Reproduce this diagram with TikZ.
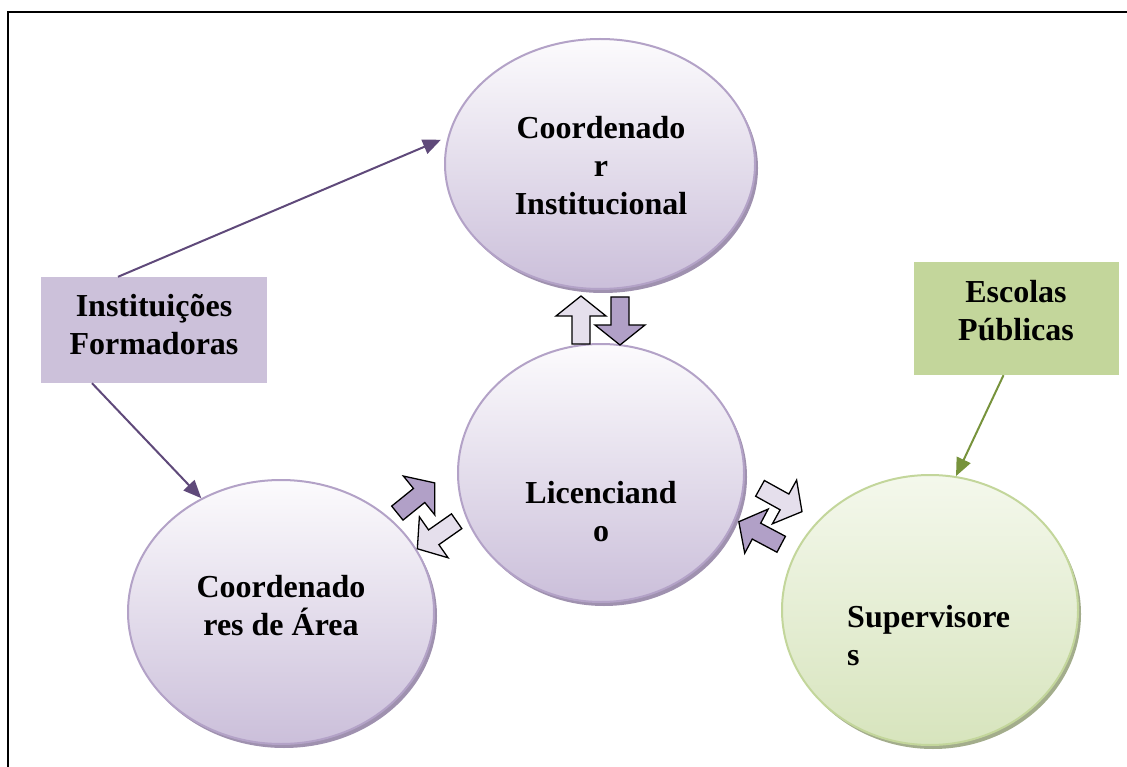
\documentclass[tikz,border=0pt]{standalone}
\usepackage{fontspec}
\setmainfont{Liberation Serif}
\usetikzlibrary{shapes.geometric,shadows,arrows.meta,calc}

\definecolor{lavtop}{HTML}{FCFBFD}
\definecolor{lavbot}{HTML}{CBBFDA}
\definecolor{lavedge}{HTML}{B3A2C7}
\definecolor{lavshadow}{HTML}{9F91AF}
\definecolor{grntop}{HTML}{F4F8EC}
\definecolor{grnbot}{HTML}{D7E4BD}
\definecolor{grnedge}{HTML}{C3D69B}
\definecolor{grnshadow}{HTML}{A3AD8C}
\definecolor{instfill}{HTML}{CCC1DA}
\definecolor{escfill}{HTML}{C3D69B}
\definecolor{purpline}{HTML}{5F497A}
\definecolor{grnline}{HTML}{77933C}
\definecolor{arrowdark}{HTML}{B1A0C7}
\definecolor{arrowlight}{HTML}{E5DFEC}

\tikzset{
  bigfont/.style={font=\fontsize{32}{38}\selectfont\bfseries},
  lavcircle/.style={ellipse, inner sep=0pt, draw=lavedge, line width=2pt,
    top color=lavtop, bottom color=lavbot,
    drop shadow={shadow xshift=3pt, shadow yshift=-4pt, fill=lavshadow, opacity=1}},
  grncircle/.style={ellipse, inner sep=0pt, draw=grnedge, line width=2pt,
    top color=grntop, bottom color=grnbot,
    drop shadow={shadow xshift=3pt, shadow yshift=-4pt, fill=grnshadow, opacity=1}},
  label/.style={bigfont, align=center, inner sep=0pt},
  box/.style={inner sep=0pt},
  link/.style={line width=2pt, -{Triangle[length=18pt,width=15pt]}},
  flow/.style={draw=black, line width=1.3pt, line join=miter},
  blockarrow/.pic={
    \path[pic actions] (-24,-9) -- (4,-9) -- (4,-25) -- (24,0)
      -- (4,25) -- (4,9) -- (-24,9) -- cycle;
  }
}

\begin{document}
\begin{tikzpicture}[x=1pt,y=-1pt]
  \useasboundingbox (0,0) rectangle (1127,767);

  % outer frame
  \draw[line width=2pt] (8,767) -- (8,12) -- (1127,12);

  % ellipses
  \node[lavcircle, minimum width=310pt, minimum height=250pt] (ci) at (600,164) {};
  \node[lavcircle, minimum width=286pt, minimum height=258pt] (lic) at (601,473) {};
  \node[lavcircle, minimum width=306pt, minimum height=264pt] (cda) at (281,612) {};
  \node[grncircle, minimum width=296pt, minimum height=270pt] (sup) at (930,610) {};

  % ellipse texts
  \node[label] (cit) at (601,166) {Coordenado\\r\\Institucional};
  \node[label] (lict) at (601,512) {Licenciand\\o};
  \node[label] (cdat) at (281,606) {Coordenado\\res de Área};
  \node[label, align=left, anchor=west] (supt) at (847,636) {Supervisore\\s};

  % boxes
  \node[box, fill=instfill, minimum width=226pt, minimum height=106pt] (inst) at (154,330) {};
  \node[box, fill=escfill, minimum width=205pt, minimum height=113pt] (esc) at (1016.5,318.5) {};
  \node[label] (instt) at (154,325) {Instituições\\Formadoras};
  \node[label] (esct) at (1016,311) {Escolas\\Públicas};

  % connectors
  \draw[link, draw=purpline, fill=purpline] ($(inst.north)+(-36,0)$) -- ($(ci.171)+(-6,0)$);
  \draw[link, draw=purpline, fill=purpline] ($(inst.south)+(-62,0)$) -- (cda.125);
  \draw[link, draw=grnline, fill=grnline] ($(esc.south)+(-13,0)$) -- (sup.79);

  % exchange arrows
  \pic[flow, fill=arrowlight, rotate=90] at (581,320) {blockarrow};
  \pic[flow, fill=arrowdark, rotate=-90] at (620,321) {blockarrow};
  \pic[flow, fill=arrowdark, rotate=39] at (416,498) {blockarrow};
  \pic[flow, fill=arrowlight, rotate=215] at (437,535) {blockarrow};
  \pic[flow, fill=arrowlight, rotate=-29] at (781,500) {blockarrow};
  \pic[flow, fill=arrowdark, rotate=152] at (760,533) {blockarrow};
\end{tikzpicture}
\end{document}
